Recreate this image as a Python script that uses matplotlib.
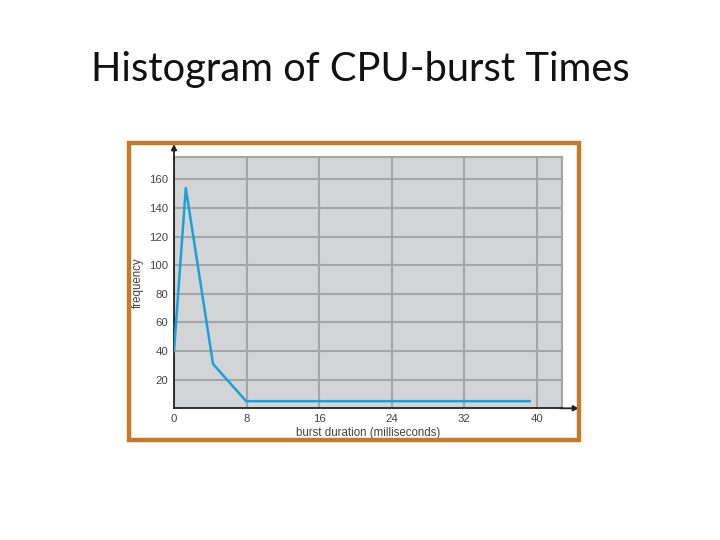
import matplotlib
matplotlib.use("Agg")
import matplotlib.pyplot as plt
from matplotlib.patches import Rectangle

# data
burst_ms = [0, 1.3, 4.3, 7.95, 39.2]
frequency = [40, 154, 31, 5, 5]
x_ticks = [0, 8, 16, 24, 32, 40]
y_ticks = [20, 40, 60, 80, 100, 120, 140, 160]

W, H = 720, 540
fig = plt.figure(figsize=(7.2, 5.4), dpi=100)
fig.patch.set_facecolor("white")

def fx(px):
    return px / W

def fy(py):
    return 1 - py / H

# orange frame
fig.patches.append(Rectangle((fx(129), fy(440)), fx(579) - fx(129), fy(143) - fy(440),
                             transform=fig.transFigure, fill=False,
                             edgecolor="#C47A26", linewidth=3.2, zorder=0))

ax = fig.add_axes([fx(174), fy(408.3), fx(562.3) - fx(174), fy(157.3) - fy(408.3)])
ax.set_facecolor("#D3D4D6")
ax.set_xlim(0, 42.8)
ax.set_ylim(0, 175.5)
ax.set_xticks(x_ticks)
ax.set_yticks(y_ticks)
ax.grid(True, color="#A4A5A7", linewidth=1.5)
ax.set_axisbelow(True)
ax.tick_params(length=0, labelsize=8.2, labelcolor="#444444", pad=4)
for lab in ax.get_xticklabels() + ax.get_yticklabels():
    lab.set_family("Liberation Sans")
for s in ["top", "right"]:
    ax.spines[s].set_color("#A4A5A7")
    ax.spines[s].set_linewidth(1.5)
for s in ["left", "bottom"]:
    ax.spines[s].set_color("#222222")
    ax.spines[s].set_linewidth(1.3)

ax.plot(burst_ms, frequency, color="#1BA1D9", linewidth=1.8, zorder=3)

ax.set_xlabel("burst duration (milliseconds)", fontsize=8.3, color="#444444",
              labelpad=2, family="Liberation Sans")
ax.set_ylabel("frequency", fontsize=8.3, color="#444444", labelpad=4,
              family="Liberation Sans")

# axis arrows
ax.annotate("", xy=(fx(579), fy(408.3)), xytext=(fx(560), fy(408.3)),
            xycoords="figure fraction", textcoords="figure fraction",
            arrowprops=dict(arrowstyle="-|>", color="#222222", lw=1.3,
                            mutation_scale=8, shrinkA=0, shrinkB=0))
ax.annotate("", xy=(fx(174), fy(144)), xytext=(fx(174), fy(160)),
            xycoords="figure fraction", textcoords="figure fraction",
            arrowprops=dict(arrowstyle="-|>", color="#222222", lw=1.3,
                            mutation_scale=8, shrinkA=0, shrinkB=0))

fig.text(0.5, fy(70), "Histogram of CPU-burst Times", ha="center", va="center",
         fontsize=28.7, family="Lato", color="#111111")

fig.savefig("out.png", dpi=100)
